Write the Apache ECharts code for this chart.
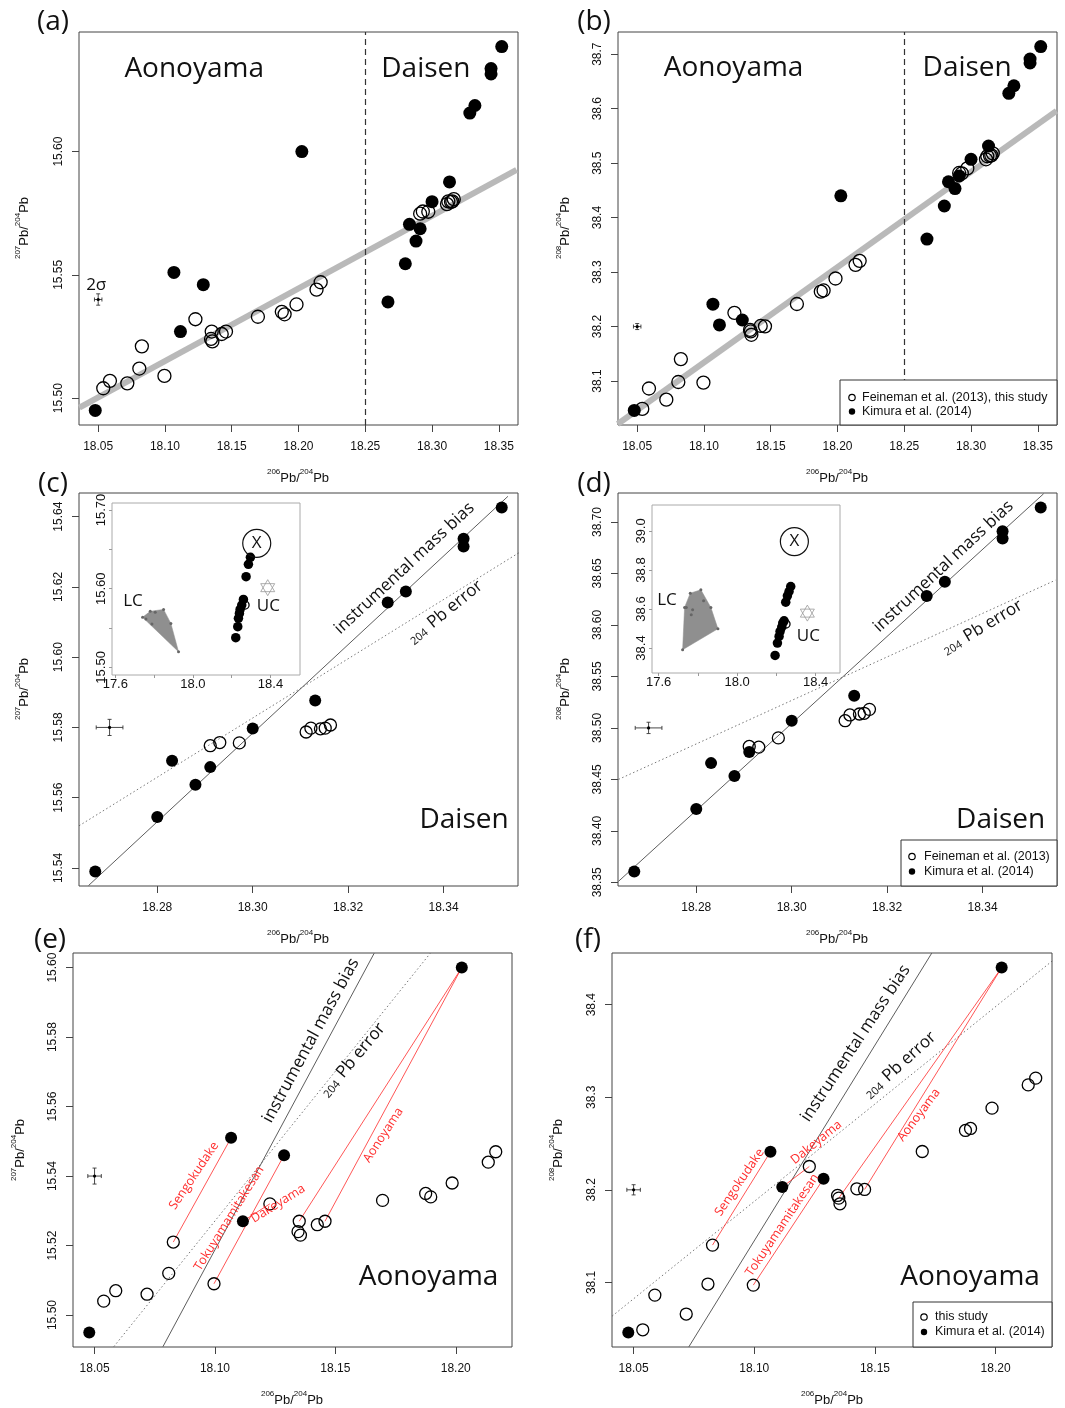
<!DOCTYPE html>
<html>
<head>
<meta charset="utf-8">
<script src="https://cdn.jsdelivr.net/npm/echarts@6/dist/echarts.min.js"></script>
<style>
html, body { margin: 0; padding: 0; background: #fff; }
#chart { width: 1065px; height: 1408px; }
</style>
</head>
<body>
<div id="chart"></div>
<script>
// ---- Aonoyama samples: this study (open) ----
var aonoX   = [18.0538, 18.0588, 18.0718, 18.0808, 18.0827, 18.0996, 18.1228, 18.1350, 18.1345, 18.1355, 18.1425, 18.1457, 18.1696, 18.1875, 18.1896, 18.1985, 18.2135, 18.2166];
var aono207 = [15.504, 15.507, 15.506, 15.512, 15.521, 15.509, 15.532, 15.527, 15.524, 15.523, 15.526, 15.527, 15.533, 15.535, 15.534, 15.538, 15.544, 15.547];
var aono208 = [38.0488, 38.0863, 38.0658, 38.0982, 38.1403, 38.0971, 38.2252, 38.1910, 38.1939, 38.1849, 38.2011, 38.2004, 38.2414, 38.2641, 38.2663, 38.2882, 38.3133, 38.3206];
// ---- Aonoyama: Kimura et al. (2014) (filled) ----
var aonoKimX   = [18.0478, 18.1067, 18.1116, 18.1287, 18.2025];
var aonoKim207 = [15.495, 15.551, 15.527, 15.546, 15.600];
var aonoKim208 = [38.046, 38.241, 38.203, 38.212, 38.440];

// ---- Daisen: Feineman et al. (2013) (open) ----
var daiX   = [18.2911, 18.2931, 18.2972, 18.3112, 18.3122, 18.3142, 18.3152, 18.3163];
var dai207 = [15.5748, 15.5757, 15.5756, 15.5787, 15.5798, 15.5796, 15.5798, 15.5807];
var dai208 = [38.4820, 38.4813, 38.4903, 38.5070, 38.5126, 38.5135, 38.5142, 38.5180];
// ---- Daisen: Kimura et al. (2014) (filled) ----
var daiKimX   = [18.2670, 18.2800, 18.2831, 18.2880, 18.2911, 18.3000, 18.3131, 18.3283, 18.3321, 18.3442, 18.3442, 18.3522];
var daiKim207 = [15.5390, 15.5545, 15.5705, 15.5637, 15.5687, 15.5797, 15.5877, 15.6156, 15.6187, 15.6337, 15.6315, 15.6426];
var daiKim208 = [38.3606, 38.4213, 38.4658, 38.4532, 38.4765, 38.5070, 38.5313, 38.6281, 38.6420, 38.6910, 38.6839, 38.7140];

// red links in (e)/(f): open index -> Kimura index
var linkName = ['Sengokudake', 'Tokuyamamitakesan', 'Dakeyama', 'Aonoyama', 'Aonoyama'];
var linkOpen = [4, 5, 6, 7, 11];
var linkKim  = [1, 3, 2, 4, 4];

// 2 sigma errors
var err206 = 0.0028, err207 = 0.0023, err208 = 0.0055;
var splitX = 18.25;

// reference lines (end points)
var trendAX = [18.0359, 18.3633], trendAY = [15.4961, 15.5926];
var trendBX = [18.0354, 18.3640], trendBY = [38.0210, 38.5960];
var biasCX = [18.2656, 18.3535], biasCY = [15.5350, 15.6458];
var pbErrCX = [18.2636, 18.3560], pbErrCY = [15.5520, 15.6299];
var biasDX = [18.2637, 18.3528], biasDY = [38.3510, 38.7274];
var pbErrDX = [18.2637, 18.3553], pbErrDY = [38.4500, 38.6435];
var biasEX = [18.0784, 18.1661], biasEY = [15.4909, 15.6041];
var pbErrEX = [18.0580, 18.1894], pbErrEY = [15.4909, 15.6041];
var biasFX = [18.0729, 18.1735], biasFY = [38.0305, 38.4555];
var pbErrFX = [18.0411, 18.2236], pbErrFY = [38.0636, 38.4475];

// insets
var insCX = [18.2209, 18.2312, 18.2347, 18.2398, 18.2432, 18.2518, 18.2604, 18.2741, 18.2861, 18.2964];
var insCY = [15.5377, 15.5517, 15.5623, 15.5686, 15.5737, 15.5792, 15.5864, 15.6153, 15.6309, 15.6398];
var insDX = [18.1932, 18.2051, 18.2136, 18.2186, 18.2271, 18.2322, 18.2390, 18.2475, 18.2560, 18.2644, 18.2729];
var insDY = [38.3623, 38.4254, 38.4595, 38.4851, 38.5072, 38.5277, 38.5396, 38.6351, 38.6675, 38.6897, 38.7153];
var lcCX = [17.7407, 17.7801, 17.8487, 17.8864, 17.9259];
var lcCY = [15.5636, 15.5712, 15.5737, 15.5559, 15.5199];
var lcCinX = [17.7578, 17.8058, 17.7887], lcCinY = [15.5614, 15.5700, 15.5551];
var lcDX = [17.722, 17.732, 17.761, 17.815, 17.866, 17.902];
var lcDY = [38.3913, 38.6078, 38.6812, 38.6982, 38.6078, 38.4987];
var lcDinX = [17.7407, 17.7729, 17.7661, 17.8288], lcDinY = [38.6078, 38.5959, 38.5703, 38.6419];
var ucC = [18.3856, 15.6013], ucD = [18.3576, 38.5789];
var xC = [18.3290, 15.6576], xD = [18.2915, 38.9454];
var insCLimX = [17.583, 18.552], insCLimY = [15.4903, 15.7089];
var insDLimX = [17.566, 18.524], insDLimY = [38.272, 39.133];

// tick values
var ticksX1 = [18.05, 18.10, 18.15, 18.20, 18.25, 18.30, 18.35];
var ticksX2 = [18.28, 18.30, 18.32, 18.34];
var ticksX3 = [18.05, 18.10, 18.15, 18.20];
var ticksYa = [15.50, 15.55, 15.60];
var ticksYb = [38.1, 38.2, 38.3, 38.4, 38.5, 38.6, 38.7];
var ticksYc = [15.54, 15.56, 15.58, 15.60, 15.62, 15.64];
var ticksYd = [38.35, 38.40, 38.45, 38.50, 38.55, 38.60, 38.65, 38.70];
var ticksYe = [15.50, 15.52, 15.54, 15.56, 15.58, 15.60];
var ticksYf = [38.1, 38.2, 38.3, 38.4];
var insTicksX = [17.6, 17.8, 18.0, 18.2, 18.4], insLabX = [17.6, 18.0, 18.4];
var insTicksYc = [15.50, 15.55, 15.60, 15.65, 15.70], insLabYc = [15.50, 15.60, 15.70];
var insTicksYd = [38.4, 38.6, 38.8, 39.0];

var FONT = '"Liberation Sans", Arial, Helvetica, sans-serif';
var ANNO = '"Open Sans", "Noto Sans", sans-serif';
var INK = '#111';
var RED = '#ff2b2b';

// R style axis range: data range widened by 4%
function rRange(arrs) {
	var all = [].concat.apply([], arrs);
	var lo = Math.min.apply(null, all), hi = Math.max.apply(null, all);
	var pad = (hi - lo) * 0.04;
	return [lo - pad, hi + pad];
}
function zip(xs, ys) {
	return xs.map(function (x, i) { return [x, ys[i]]; });
}

var limAX = rRange([aonoX, aonoKimX, daiX, daiKimX]);
var limAY = rRange([aono207, aonoKim207, dai207, daiKim207]);
var limBY = rRange([aono208, aonoKim208, dai208, daiKim208]);
var limCX = rRange([daiX, daiKimX]);
var limCY = rRange([dai207, daiKim207]);
var limDY = rRange([dai208, daiKim208]);
var limEX = rRange([aonoX, aonoKimX]);
var limEY = rRange([aono207, aonoKim207]);
var limFY = rRange([aono208, aonoKim208]);

function axisCfg(gi, lim, ticks, labels, digits, vertical, inset) {
	return {
		type: 'value', gridIndex: gi, min: lim[0], max: lim[1],
		splitLine: { show: false }, axisLine: { show: false },
		axisTick: { show: true, length: inset ? 3 : 7, customValues: ticks, lineStyle: { color: inset ? '#999' : '#444' } },
		axisLabel: {
			customValues: labels, rotate: vertical ? 90 : 0,
			margin: inset ? (vertical ? 4 : 3) : (vertical ? 14 : 16),
			fontSize: inset ? 13 : 12, fontFamily: FONT, color: '#111',
			formatter: function (v) { return (+v).toFixed(digits); }
		}
	};
}

function points(gi, xs, ys, filled, size) {
	return {
		type: 'scatter', xAxisIndex: gi, yAxisIndex: gi, symbolSize: size, z: 4,
		itemStyle: filled ? { color: '#000', opacity: 1 } : { color: 'rgba(0,0,0,0)', borderColor: '#000', borderWidth: 1.3, opacity: 1 },
		data: zip(xs, ys)
	};
}

function segment(gi, xs, ys, color, width, type, z) {
	return {
		type: 'line', xAxisIndex: gi, yAxisIndex: gi, symbol: 'none', z: z || 2,
		lineStyle: { color: color, width: width, type: type || 'solid' },
		data: zip(xs, ys)
	};
}

// 2 sigma error cross
function errCross(gi, x, y, dx, dy) {
	return {
		type: 'custom', xAxisIndex: gi, yAxisIndex: gi, z: 3,
		data: [[x, y, dx, dy]],
		renderItem: function (params, api) {
			var cx = api.value(0), cy = api.value(1), ex = api.value(2), ey = api.value(3);
			var c = api.coord([cx, cy]);
			var l = api.coord([cx - ex, cy]), r = api.coord([cx + ex, cy]);
			var t = api.coord([cx, cy + ey]), b = api.coord([cx, cy - ey]);
			var st = { stroke: '#333', lineWidth: 0.9 };
			return { type: 'group', children: [
				{ type: 'line', shape: { x1: l[0], y1: l[1], x2: r[0], y2: r[1] }, style: st },
				{ type: 'line', shape: { x1: t[0], y1: t[1], x2: b[0], y2: b[1] }, style: st },
				{ type: 'line', shape: { x1: l[0], y1: l[1] - 2, x2: l[0], y2: l[1] + 2 }, style: st },
				{ type: 'line', shape: { x1: r[0], y1: r[1] - 2, x2: r[0], y2: r[1] + 2 }, style: st },
				{ type: 'line', shape: { x1: t[0] - 2, y1: t[1], x2: t[0] + 2, y2: t[1] }, style: st },
				{ type: 'line', shape: { x1: b[0] - 2, y1: b[1], x2: b[0] + 2, y2: b[1] }, style: st },
				{ type: 'circle', shape: { cx: c[0], cy: c[1], r: 1.6 }, style: { fill: '#000' } }
			] };
		}
	};
}

// text placed at data positions
function notes(gi, items) {
	return {
		type: 'scatter', xAxisIndex: gi, yAxisIndex: gi, symbolSize: 1, clip: false, silent: true, z: 6,
		itemStyle: { color: 'rgba(0,0,0,0)', opacity: 1 },
		data: items.map(function (it) {
			return { value: [it[0], it[1]], label: {
				show: true, position: 'inside', formatter: it[2], rotate: it[3] || 0,
				fontSize: it[4] || 28, color: it[5] || INK, fontFamily: ANNO, opacity: 1,
				rich: {
					s: { fontSize: 11, fontFamily: ANNO, color: INK, verticalAlign: 'bottom', padding: [0, 6, 0, 0] },
					b: { fontSize: 17, fontFamily: ANNO, color: INK }
				}
			} };
		})
	};
}

function redLinks(gi, openY, kimY) {
	return linkOpen.map(function (oi, k) {
		var ki = linkKim[k];
		return segment(gi, [aonoX[oi], aonoKimX[ki]], [openY[oi], kimY[ki]], RED, 0.8, 'solid', 3);
	});
}

function lcPolygon(gi, xs, ys) {
	return {
		type: 'custom', xAxisIndex: gi, yAxisIndex: gi, z: 2,
		data: [[xs[0], ys[0]]],
		renderItem: function (params, api) {
			var pts = xs.map(function (x, i) { return api.coord([x, ys[i]]); });
			return { type: 'polygon', shape: { points: pts }, style: { fill: '#8f8f8f', stroke: '#8f8f8f', lineWidth: 0.5 } };
		}
	};
}

function insetMarks(gi, dx, dy, polyX, polyY, inX, inY, uc, xm) {
	return [
		lcPolygon(gi, polyX, polyY),
		{ type: 'scatter', xAxisIndex: gi, yAxisIndex: gi, symbolSize: 3, z: 3, itemStyle: { color: '#666', opacity: 1 }, data: zip(polyX.concat(inX), polyY.concat(inY)) },
		{ type: 'scatter', xAxisIndex: gi, yAxisIndex: gi, symbolSize: 9.5, z: 4, itemStyle: { color: '#000', opacity: 1 }, data: zip(dx, dy) },
		{ type: 'scatter', xAxisIndex: gi, yAxisIndex: gi, symbol: 'path://M10,0 L18.66,15 L1.34,15 Z M10,20 L18.66,5 L1.34,5 Z',
			symbolSize: [14, 16], z: 4, itemStyle: { color: 'rgba(0,0,0,0)', borderColor: '#9a9a9a', borderWidth: 0.8, opacity: 1 }, data: [uc] },
		{ type: 'scatter', xAxisIndex: gi, yAxisIndex: gi, symbolSize: 28, z: 4, clip: false,
			itemStyle: { color: 'rgba(0,0,0,0)', borderColor: '#111', borderWidth: 1.2, opacity: 1 },
			label: { show: true, position: 'inside', formatter: 'X', fontSize: 17, fontFamily: ANNO, color: INK },
			data: [xm] }
	];
}

var grids = [
	{ left: 79, top: 32, width: 439, height: 393 },
	{ left: 618, top: 32, width: 439, height: 393 },
	{ left: 79, top: 493, width: 439, height: 393 },
	{ left: 618, top: 493, width: 439, height: 393 },
	{ left: 73, top: 953, width: 439, height: 394 },
	{ left: 612, top: 953, width: 440, height: 394 },
	{ left: 112, top: 503, width: 188, height: 172 },
	{ left: 652, top: 505, width: 188, height: 168 }
].map(function (g, i) {
	g.show = true;
	g.borderColor = i > 5 ? '#aaa' : '#444';
	g.borderWidth = 1;
	g.backgroundColor = i > 5 ? '#fff' : 'transparent';
	g.containLabel = false;
	return g;
});

var xAxes = [
	axisCfg(0, limAX, ticksX1, ticksX1, 2, false),
	axisCfg(1, limAX, ticksX1, ticksX1, 2, false),
	axisCfg(2, limCX, ticksX2, ticksX2, 2, false),
	axisCfg(3, limCX, ticksX2, ticksX2, 2, false),
	axisCfg(4, limEX, ticksX3, ticksX3, 2, false),
	axisCfg(5, limEX, ticksX3, ticksX3, 2, false),
	axisCfg(6, insCLimX, insTicksX, insLabX, 1, false, true),
	axisCfg(7, insDLimX, insTicksX, insLabX, 1, false, true)
];
var yAxes = [
	axisCfg(0, limAY, ticksYa, ticksYa, 2, true),
	axisCfg(1, limBY, ticksYb, ticksYb, 1, true),
	axisCfg(2, limCY, ticksYc, ticksYc, 2, true),
	axisCfg(3, limDY, ticksYd, ticksYd, 2, true),
	axisCfg(4, limEY, ticksYe, ticksYe, 2, true),
	axisCfg(5, limFY, ticksYf, ticksYf, 1, true),
	axisCfg(6, insCLimY, insTicksYc, insLabYc, 2, true, true),
	axisCfg(7, insDLimY, insTicksYd, insTicksYd, 1, true, true)
];

var dashV = { symbol: 'none', silent: true, label: { show: false }, lineStyle: { color: '#333', width: 1.2, type: [6, 4] }, data: [{ xAxis: splitX }] };
var trendA = segment(0, trendAX, trendAY, '#b9b9b9', 6, 'solid', 1);
trendA.markLine = dashV;
var trendB = segment(1, trendBX, trendBY, '#b9b9b9', 6, 'solid', 1);
trendB.markLine = dashV;

var series = [
	// (a)
	trendA,
	points(0, aonoX.concat(daiX), aono207.concat(dai207), false, 13),
	points(0, aonoKimX.concat(daiKimX), aonoKim207.concat(daiKim207), true, 13),
	errCross(0, 18.05, 15.54, err206, err207),
	notes(0, [[18.1219, 15.6336, 'Aonoyama'], [18.2954, 15.6336, 'Daisen'], [18.0485, 15.5459, '2σ', 0, 17]]),
	// (b)
	trendB,
	points(1, aonoX.concat(daiX), aono208.concat(dai208), false, 13),
	points(1, aonoKimX.concat(daiKimX), aonoKim208.concat(daiKim208), true, 13),
	errCross(1, 18.05, 38.2, err206, err208),
	notes(1, [[18.1222, 38.6745, 'Aonoyama'], [18.2971, 38.6745, 'Daisen']]),
	// (c)
	segment(2, biasCX, biasCY, '#333', 0.8),
	segment(2, pbErrCX, pbErrCY, '#555', 0.8, [1.5, 2.5]),
	points(2, daiX, dai207, false, 12),
	points(2, daiKimX, daiKim207, true, 12),
	errCross(2, 18.27, 15.58, err206, err207),
	notes(2, [[18.3318, 15.6253, 'instrumental mass bias', 43, 17], [18.3404, 15.6128, '{s|204}{b|Pb error}', 39, 17], [18.3443, 15.5536, 'Daisen']]),
	// (d)
	segment(3, biasDX, biasDY, '#333', 0.8),
	segment(3, pbErrDX, pbErrDY, '#555', 0.8, [1.5, 2.5]),
	points(3, daiX, dai208, false, 12),
	points(3, daiKimX, daiKim208, true, 12),
	errCross(3, 18.27, 38.50, err206, err208),
	notes(3, [[18.3318, 38.6568, 'instrumental mass bias', 43, 17], [18.3400, 38.5977, '{s|204}{b|Pb error}', 31, 17], [18.3438, 38.4106, 'Daisen']]),
	// (e)
	segment(4, biasEX, biasEY, '#333', 0.8),
	segment(4, pbErrEX, pbErrEY, '#555', 0.8, [1.5, 2.5]),
	points(4, aonoX, aono207, false, 12),
	points(4, aonoKimX, aonoKim207, true, 12),
	errCross(4, 18.05, 15.54, err206, err207),
	notes(4, [[18.1398, 15.5790, 'instrumental mass bias', 61.5, 17], [18.1573, 15.5734, '{s|204}{b|Pb error}', 50, 17],
		[18.1887, 15.5110, 'Aonoyama'],
		[18.0913, 15.5401, 'Sengokudake', 56, 12.5, RED], [18.1059, 15.5278, 'Tokuyamamitakesan', 58, 12.5, RED],
		[18.1262, 15.5320, 'Dakeyama', 32, 12.5, RED], [18.1699, 15.5518, 'Aonoyama', 57, 12.5, RED]]),
	// (f)
	segment(5, biasFX, biasFY, '#333', 0.8),
	segment(5, pbErrFX, pbErrFY, '#555', 0.8, [1.5, 2.5]),
	points(5, aonoX, aono208, false, 12),
	points(5, aonoKimX, aonoKim208, true, 12),
	errCross(5, 18.05, 38.2, err206, err208),
	notes(5, [[18.1420, 38.3582, 'instrumental mass bias', 56.5, 17], [18.1604, 38.3348, '{s|204}{b|Pb error}', 42, 17],
		[18.1894, 38.1061, 'Aonoyama'],
		[18.0939, 38.2080, 'Sengokudake', 56, 12.5, RED], [18.1116, 38.1619, 'Tokuyamamitakesan', 56, 12.5, RED],
		[18.1257, 38.2512, 'Dakeyama', 39, 12.5, RED], [18.1682, 38.2808, 'Aonoyama', 53, 12.5, RED]])
];
series = series.concat(redLinks(4, aono207, aonoKim207), redLinks(5, aono208, aonoKim208));
// insets
series = series.concat(insetMarks(6, insCX, insCY, lcCX, lcCY, lcCinX, lcCinY, ucC, xC));
series = series.concat(insetMarks(7, insDX, insDY, lcDX, lcDY, lcDinX, lcDinY, ucD, xD));
series.push(points(6, [18.269], [15.5792], false, 8));
series.push(points(7, [18.249], [38.523], false, 8));
series.push(notes(6, [[17.6909, 15.5843, 'LC', 0, 17], [18.3890, 15.5784, 'UC', 0, 17]]));
series.push(notes(7, [[17.6424, 38.6470, 'LC', 0, 17], [18.3627, 38.4595, 'UC', 0, 17]]));

// axis titles, panel letters, legends
var richIso = {
	b: { fontSize: 13, fontFamily: FONT, fill: '#111', lineHeight: 20 },
	s: { fontSize: 8, fontFamily: FONT, fill: '#111', lineHeight: 8, verticalAlign: 'top' }
};
function iso(x, y, num, vertical) {
	return { type: 'text', x: x, y: y, rotation: vertical ? Math.PI / 2 : 0, z: 100,
		style: { text: '{s|' + num + '}{b|Pb/}{s|204}{b|Pb}', rich: richIso, align: 'center', verticalAlign: 'middle' } };
}
function letter(x, y, t) {
	return { type: 'text', x: x, y: y, z: 100, style: { text: t, fontSize: 28, fontFamily: ANNO, fill: INK, align: 'center', verticalAlign: 'middle' } };
}
function legendBox(x, y, w, h, rows, symX, txtX) {
	var els = [{ type: 'rect', shape: { x: x, y: y, width: w, height: h }, style: { fill: '#fff', stroke: '#333', lineWidth: 1 }, z: 100 }];
	rows.forEach(function (r) {
		els.push({ type: 'circle', shape: { cx: symX, cy: r[1], r: 3.2 }, z: 101,
			style: r[2] ? { fill: '#000' } : { fill: '#fff', stroke: '#000', lineWidth: 1.2 } });
		els.push({ type: 'text', x: txtX, y: r[1], z: 101,
			style: { text: r[0], fontSize: 12.5, fontFamily: FONT, fill: '#111', align: 'left', verticalAlign: 'middle' } });
	});
	return els;
}

var graphics = [
	iso(298, 478, 206), iso(837, 478, 206), iso(298, 939, 206), iso(837, 939, 206), iso(292, 1400, 206), iso(832, 1400, 206),
	iso(24, 228, 207, true), iso(565, 228, 208, true), iso(24, 689, 207, true), iso(565, 689, 208, true),
	iso(20, 1150, 207, true), iso(558, 1150, 208, true),
	letter(53, 22, '(a)'), letter(594, 22, '(b)'), letter(53, 484, '(c)'), letter(594, 484, '(d)'),
	letter(50, 940, '(e)'), letter(588, 940, '(f)')
];
graphics = graphics.concat(
	legendBox(840, 380, 217, 45, [['Feineman et al. (2013), this study', 397.5, false], ['Kimura et al. (2014)', 411.5, true]], 852, 862),
	legendBox(901, 840, 156, 46, [['Feineman et al. (2013)', 856.5, false], ['Kimura et al. (2014)', 871.5, true]], 912, 924),
	legendBox(913, 1302, 139, 45, [['this study', 1317, false], ['Kimura et al. (2014)', 1332, true]], 924, 935)
);

var myChart = echarts.init(document.getElementById('chart'));
myChart.setOption({
	animation: false,
	backgroundColor: '#fff',
	grid: grids,
	xAxis: xAxes,
	yAxis: yAxes,
	series: series,
	graphic: graphics
});
</script>
</body>
</html>
